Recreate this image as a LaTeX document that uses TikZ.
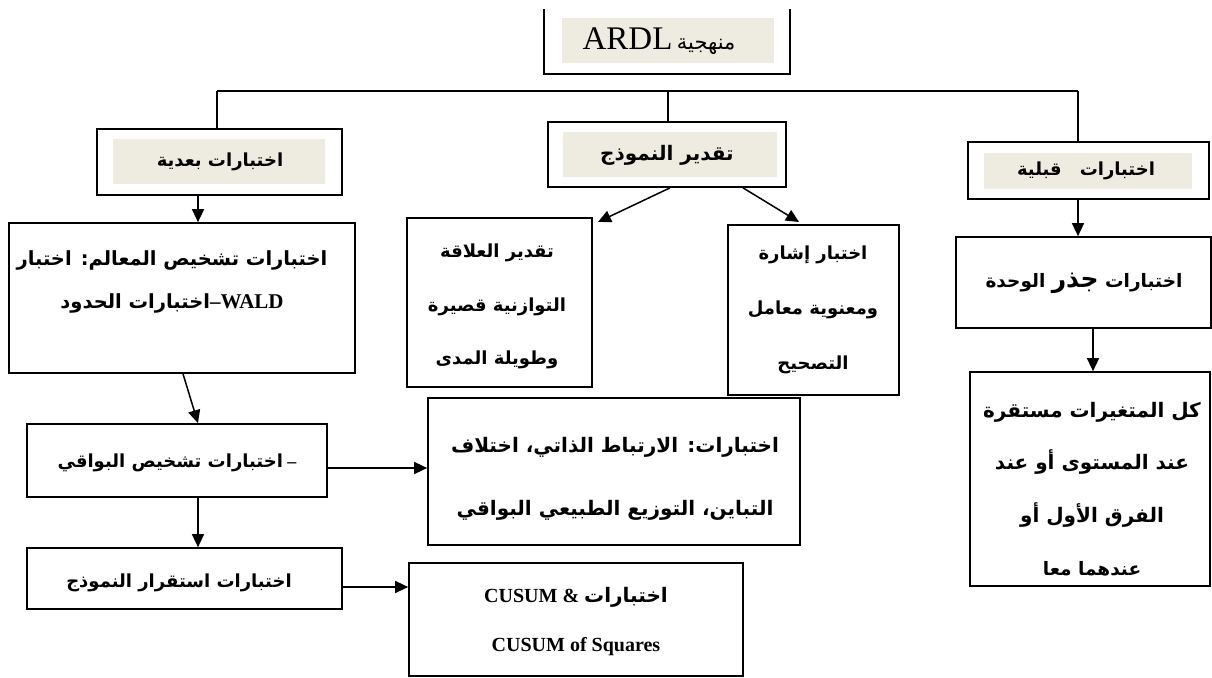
\documentclass[tikz,border=0pt]{standalone}
\usepackage{fontspec}
\setmainfont{Liberation Serif}
\newfontfamily\arfont[Script=Arabic]{DejaVu Sans}
\TeXXeTstate=1
\usetikzlibrary{arrows.meta}
\definecolor{shadebg}{HTML}{EEECE1}
\newcommand{\AR}[1]{{\arfont\bfseries\beginR #1\endR}}
\begin{document}
\begin{tikzpicture}[x=1pt,y=-1pt, line width=1.7pt,
  box/.style={draw, rectangle, inner sep=0pt},
  bgbox/.style={fill=shadebg, draw=none, rectangle, inner sep=0pt},
  arr/.style={-{Triangle[length=13pt,width=12pt]}, line width=1.5pt},
  lbl/.style={align=center, inner sep=0pt, font=\fontsize{18}{21}\selectfont}]
\useasboundingbox (0,0) rectangle (1212,677);

% shaded backgrounds
\node[bgbox, minimum width=212pt, minimum height=45pt] (ardlbg) at (668,40.5) {};
\node[bgbox, minimum width=212pt, minimum height=45pt] (lbbg) at (219,161.5) {};
\node[bgbox, minimum width=214pt, minimum height=45pt] (mbbg) at (670,154.5) {};
\node[bgbox, minimum width=208pt, minimum height=36pt] (rbbg) at (1088,171) {};

% boxes
\node[rectangle, inner sep=0pt, minimum width=244pt, minimum height=63pt] (ardl) at (667,41.5) {};
\draw (ardl.north west) -- (ardl.south west) -- (ardl.south east) -- (ardl.north east);
\node[box, minimum width=245pt, minimum height=66pt] (lb) at (219.5,162) {};
\node[box, minimum width=238pt, minimum height=65pt] (mb) at (667,154.5) {};
\node[box, minimum width=241pt, minimum height=57pt] (rb) at (1088.5,170.5) {};
\node[box, minimum width=255pt, minimum height=91pt] (root) at (1083.5,282.5) {};
\node[box, minimum width=240pt, minimum height=214pt] (all) at (1090,479) {};
\node[box, minimum width=185pt, minimum height=169pt] (tq) at (499.5,302.5) {};
\node[box, minimum width=171pt, minimum height=170pt] (ik) at (813.5,310) {};
\node[box, minimum width=346pt, minimum height=150pt] (pd) at (182,298) {};
\node[box, minimum width=300pt, minimum height=73pt] (rd) at (177,460.5) {};
\node[box, minimum width=372pt, minimum height=147pt] (ac) at (614,471.5) {};
\node[box, minimum width=315pt, minimum height=61pt] (st) at (184.5,578.5) {};
\node[box, minimum width=334pt, minimum height=113pt] (cu) at (576,619.5) {};

% texts
\node[lbl] (tardl) at (659,41) {{\fontsize{33}{33}\selectfont ARDL}\ {\arfont\fontsize{21}{21}\selectfont\beginR منهجية\endR}};
\node[lbl] (tlb) at (220,162) {\AR{اختبارات بعدية}};
\node[lbl, font=\fontsize{20}{24}\selectfont] (tmb) at (667,155) {\AR{تقدير النموذج}};
\node[lbl] (trb) at (1086,171) {\AR{اختبارات\quad قبلية}};
\node[lbl, font=\fontsize{18.5}{22}\selectfont] (troot) at (1084,283) {\AR{اختبارات {\fontsize{25}{25}\selectfont جذر} الوحدة}};
\node[lbl, font=\fontsize{20}{52.7}\selectfont] (tall) at (1092,489) {\AR{كل المتغيرات مستقرة}\\ \AR{عند المستوى أو عند}\\ \AR{الفرق الأول أو}\\ {\fontsize{18.5}{18.5}\selectfont\AR{عندهما معا}}};
\node[lbl, font=\fontsize{18}{53.5}\selectfont] (ttq) at (497,306.5) {\AR{تقدير العلاقة}\\ \AR{التوازنية قصيرة}\\ \AR{وطويلة المدى}};
\node[lbl, font=\fontsize{18}{55}\selectfont] (tik) at (813,310) {\AR{اختبار إشارة}\\ \AR{ومعنوية معامل}\\ \AR{التصحيح}};
\node[lbl, font=\fontsize{19.5}{43}\selectfont] (tpd) at (172,281.5) {\AR{اختبارات تشخيص المعالم: اختبار}\\ \AR{اختبارات الحدود}{\fontsize{21}{21}\selectfont\bfseries–WALD}};
\node[lbl] (trd) at (177,463) {\AR{اختبارات تشخيص البواقي}\ {\bfseries –}};
\node[lbl, font=\fontsize{20}{63}\selectfont] (tac) at (615,478.5) {\AR{اختبارات: الارتباط الذاتي، اختلاف}\\ \AR{التباين،\ التوزيع الطبيعي البواقي}};
\node[lbl] (tst) at (179,583) {\AR{اختبارات استقرار النموذج}};
\node[lbl, font=\fontsize{20}{49}\selectfont] (tcu) at (576,622) {{\bfseries CUSUM \&} \AR{اختبارات}\\ {\bfseries CUSUM of Squares}};

% helper coordinates
\coordinate (busL) at (217,91);
\coordinate (busM) at (668,91);
\coordinate (busR) at (1078,91);
\coordinate (xa) at (1093,0);
\coordinate (xb) at (183,0);
\coordinate (xc) at (198,0);
\coordinate (ya) at (0,468);
\coordinate (yb) at (0,587);
\coordinate (tqtip) at (598,222);
\coordinate (iktip) at (799,222);

% connectors
\draw (busL) -- (busR);
\draw (busL) -- (busL |- lb.north);
\draw (busM) -- (busM |- mb.north);
\draw (busR) -- (busR |- rb.north);
\draw[arr] (lb.south -| xc) -- (pd.north -| xc);
\draw[arr] ([xshift=3pt]mb.south) -- (tqtip);
\draw[arr] ([xshift=76pt]mb.south) -- (iktip);
\draw[arr] (rb.south -| busR) -- (root.north -| busR);
\draw[arr] (root.south -| xa) -- (all.north -| xa);
\draw[arr] (pd.south -| xb) -- (rd.north -| xc);
\draw[arr] (rd.east |- ya) -- (ac.west |- ya);
\draw[arr] (rd.south -| xc) -- (st.north -| xc);
\draw[arr] (st.east |- yb) -- (cu.west |- yb);
\end{tikzpicture}
\end{document}
